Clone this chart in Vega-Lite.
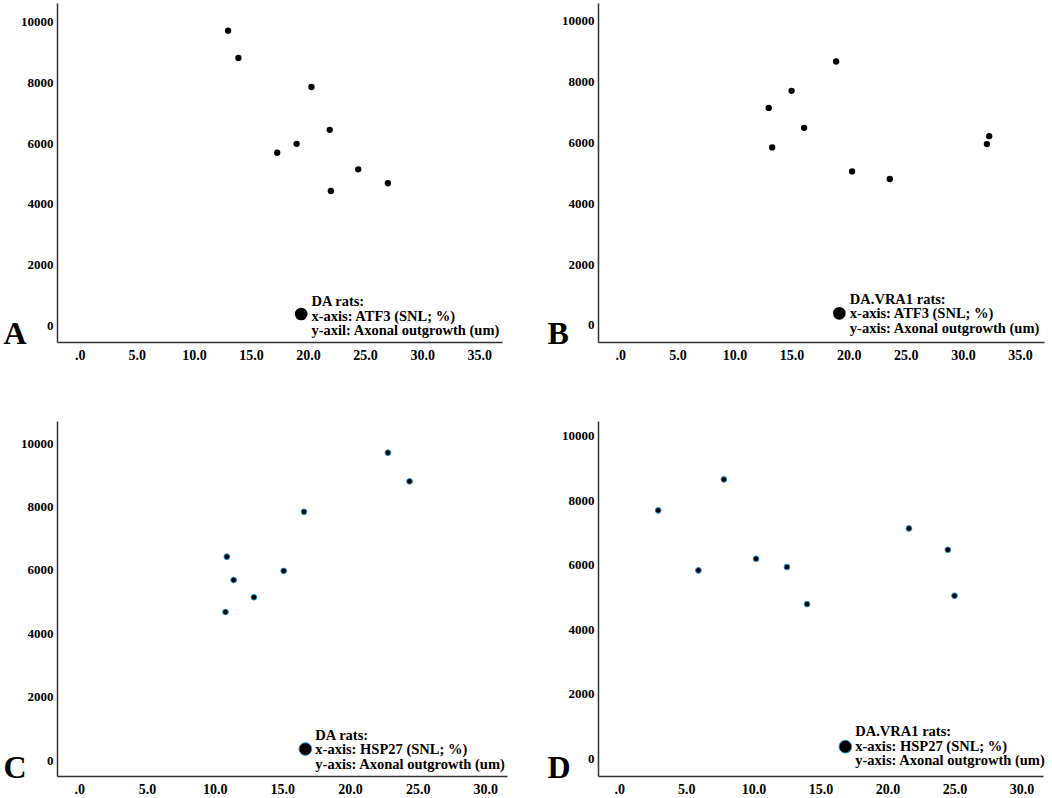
{
  "$schema": "https://vega.github.io/schema/vega-lite/v6.json",
  "padding": {"left": 3, "top": 3, "right": 5, "bottom": 5},
  "config": {
    "font": "Liberation Serif",
    "view": {"stroke": null},
    "axis": {
      "grid": false,
      "ticks": false,
      "labelFontSize": 13,
      "labelFontWeight": "bold",
      "labelColor": "#000",
      "domainColor": "#333",
      "domainWidth": 1.5,
      "titleFontSize": 32,
      "titleFontWeight": "bold",
      "titleColor": "#000"
    },
    "axisX": {"labelPadding": 6, "labelFontSize": 14},
    "axisY": {"labelPadding": 4, "titleAngle": 0, "titleAlign": "left", "titleBaseline": "alphabetic"},
    "text": {"fontSize": 14.5, "fontWeight": "bold", "align": "left", "baseline": "middle", "lineBreak": "\n", "lineHeight": 14.5, "color": "#000"}
  },
  "datasets": {
    "A": [
      {"marker": 13.0, "outgrowth": 9700},
      {"marker": 13.9, "outgrowth": 8800},
      {"marker": 20.3, "outgrowth": 7845},
      {"marker": 21.9, "outgrowth": 6435},
      {"marker": 19.0, "outgrowth": 5975},
      {"marker": 17.3, "outgrowth": 5680},
      {"marker": 24.4, "outgrowth": 5135},
      {"marker": 27.0, "outgrowth": 4675},
      {"marker": 22.0, "outgrowth": 4420}
    ],
    "B": [
      {"marker": 13.0, "outgrowth": 7140},
      {"marker": 13.3, "outgrowth": 5840},
      {"marker": 15.0, "outgrowth": 7700},
      {"marker": 16.1, "outgrowth": 6485},
      {"marker": 18.9, "outgrowth": 8665},
      {"marker": 20.3, "outgrowth": 5050},
      {"marker": 23.6, "outgrowth": 4800},
      {"marker": 32.1, "outgrowth": 5950},
      {"marker": 32.3, "outgrowth": 6210}
    ],
    "C": [
      {"marker": 22.8, "outgrowth": 9705},
      {"marker": 24.4, "outgrowth": 8800},
      {"marker": 16.6, "outgrowth": 7840},
      {"marker": 10.9, "outgrowth": 6420},
      {"marker": 15.1, "outgrowth": 5970},
      {"marker": 11.4, "outgrowth": 5685},
      {"marker": 12.9, "outgrowth": 5140},
      {"marker": 10.8, "outgrowth": 4675}
    ],
    "D": [
      {"marker": 2.9, "outgrowth": 7685},
      {"marker": 5.9, "outgrowth": 5825},
      {"marker": 7.8, "outgrowth": 8645},
      {"marker": 10.2, "outgrowth": 6185},
      {"marker": 12.5, "outgrowth": 5930},
      {"marker": 14.0, "outgrowth": 4780},
      {"marker": 21.6, "outgrowth": 7125},
      {"marker": 24.5, "outgrowth": 6465},
      {"marker": 25.0, "outgrowth": 5040}
    ]
  },
  "columns": 2,
  "spacing": {"row": 79, "column": 91},
  "bounds": "flush",
  "concat": [
    {
      "width": 445,
      "height": 339,
      "layer": [
        {
          "data": {"name": "A"},
          "mark": {"type": "point", "filled": true, "size": 40, "color": "#000", "opacity": 1},
          "encoding": {
            "x": {"field": "marker", "type": "quantitative", "title": null,
              "scale": {"domain": [-2, 37], "nice": false, "zero": false},
              "axis": {"values": [0, 5, 10, 15, 20, 25, 30, 35], "labelExpr": "datum.value === 0 ? '.0' : format(datum.value, '.1f')"}},
            "y": {"field": "outgrowth", "type": "quantitative", "title": "A",
              "scale": {"domain": [-550, 10610], "nice": false, "zero": false},
              "axis": {"values": [0, 2000, 4000, 6000, 8000, 10000], "format": "d", "titleX": -54, "titleY": 340}}
          }
        },
        {
          "data": {"values": [{"label": "DA rats:\nx-axis: ATF3 (SNL; %)\ny-axil: Axonal outgrowth (um)"}]},
          "layer": [
            {
              "mark": {"type": "point", "filled": true, "size": 160, "color": "#000", "opacity": 1},
              "encoding": {"x": {"datum": 19.4, "title": null}, "y": {"datum": 372, "title": "A"}}
            },
            {
              "mark": {"type": "text"},
              "encoding": {"x": {"datum": 20.3, "title": null}, "y": {"datum": 760, "title": "A"}, "text": {"field": "label"}}
            }
          ]
        }
      ]
    },
    {
      "width": 446,
      "height": 339,
      "layer": [
        {
          "data": {"name": "B"},
          "mark": {"type": "point", "filled": true, "size": 40, "color": "#000", "opacity": 1},
          "encoding": {
            "x": {"field": "marker", "type": "quantitative", "title": null,
              "scale": {"domain": [-1.95, 37.1], "nice": false, "zero": false},
              "axis": {"values": [0, 5, 10, 15, 20, 25, 30, 35], "labelExpr": "datum.value === 0 ? '.0' : format(datum.value, '.1f')"}},
            "y": {"field": "outgrowth", "type": "quantitative", "title": "B",
              "scale": {"domain": [-560, 10590], "nice": false, "zero": false},
              "axis": {"values": [0, 2000, 4000, 6000, 8000, 10000], "format": "d", "titleX": -51, "titleY": 340}}
          }
        },
        {
          "data": {"values": [{"label": "DA.VRA1 rats:\nx-axis: ATF3 (SNL; %)\ny-axis: Axonal outgrowth (um)"}]},
          "layer": [
            {
              "mark": {"type": "point", "filled": true, "size": 160, "color": "#000", "opacity": 1},
              "encoding": {"x": {"datum": 19.18, "title": null}, "y": {"datum": 384, "title": "B"}}
            },
            {
              "mark": {"type": "text"},
              "encoding": {"x": {"datum": 20.1, "title": null}, "y": {"datum": 822, "title": "B"}, "text": {"field": "label"}}
            }
          ]
        }
      ]
    },
    {
      "width": 450,
      "height": 355,
      "layer": [
        {
          "data": {"name": "C"},
          "mark": {"type": "point", "filled": true, "size": 32, "color": "#000", "stroke": "#1f8fd6", "strokeWidth": 1, "opacity": 1},
          "encoding": {
            "x": {"field": "marker", "type": "quantitative", "title": null,
              "scale": {"domain": [-1.65, 31.6], "nice": false, "zero": false},
              "axis": {"values": [0, 5, 10, 15, 20, 25, 30], "labelExpr": "datum.value === 0 ? '.0' : format(datum.value, '.1f')"}},
            "y": {"field": "outgrowth", "type": "quantitative", "title": "C",
              "scale": {"domain": [-505, 10705], "nice": false, "zero": false},
              "axis": {"values": [0, 2000, 4000, 6000, 8000, 10000], "format": "d", "titleX": -54, "titleY": 356}}
          }
        },
        {
          "data": {"values": [{"label": "DA rats:\nx-axis: HSP27 (SNL; %)\ny-axis: Axonal outgrowth (um)"}]},
          "layer": [
            {
              "mark": {"type": "point", "filled": true, "size": 160, "color": "#000", "stroke": "#1f8fd6", "strokeWidth": 1, "opacity": 1},
              "encoding": {"x": {"datum": 16.7, "title": null}, "y": {"datum": 347, "title": "C"}}
            },
            {
              "mark": {"type": "text"},
              "encoding": {"x": {"datum": 17.44, "title": null}, "y": {"datum": 767, "title": "C"}, "text": {"field": "label"}}
            }
          ]
        }
      ]
    },
    {
      "width": 445,
      "height": 355,
      "layer": [
        {
          "data": {"name": "D"},
          "mark": {"type": "point", "filled": true, "size": 32, "color": "#000", "stroke": "#1f8fd6", "strokeWidth": 1, "opacity": 1},
          "encoding": {
            "x": {"field": "marker", "type": "quantitative", "title": null,
              "scale": {"domain": [-1.59, 31.6], "nice": false, "zero": false},
              "axis": {"values": [0, 5, 10, 15, 20, 25, 30], "labelExpr": "datum.value === 0 ? '.0' : format(datum.value, '.1f')"}},
            "y": {"field": "outgrowth", "type": "quantitative", "title": "D",
              "scale": {"domain": [-549, 10456], "nice": false, "zero": false},
              "axis": {"values": [0, 2000, 4000, 6000, 8000, 10000], "format": "d", "titleX": -51, "titleY": 356}}
          }
        },
        {
          "data": {"values": [{"label": "DA.VRA1 rats:\nx-axis: HSP27 (SNL; %)\ny-axis: Axonal outgrowth (um)"}]},
          "layer": [
            {
              "mark": {"type": "point", "filled": true, "size": 160, "color": "#000", "stroke": "#1f8fd6", "strokeWidth": 1, "opacity": 1},
              "encoding": {"x": {"datum": 16.86, "title": null}, "y": {"datum": 360, "title": "D"}}
            },
            {
              "mark": {"type": "text"},
              "encoding": {"x": {"datum": 17.6, "title": null}, "y": {"datum": 806, "title": "D"}, "text": {"field": "label"}}
            }
          ]
        }
      ]
    }
  ]
}
